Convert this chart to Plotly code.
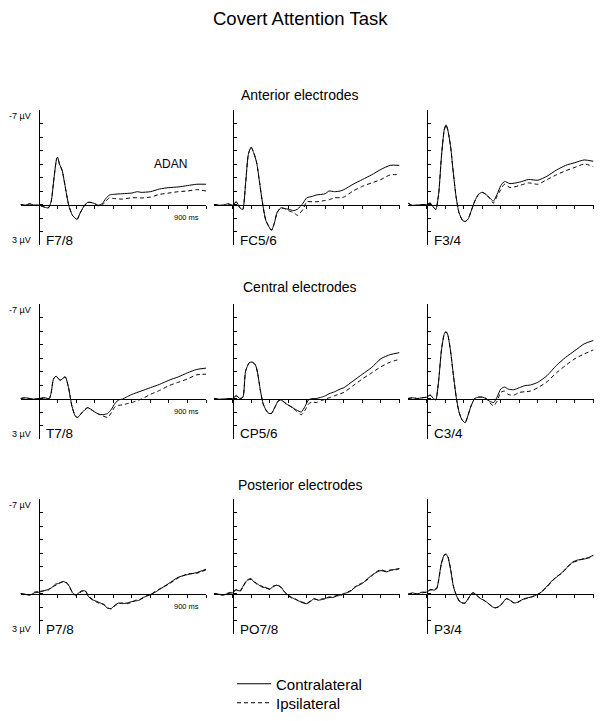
import plotly.graph_objects as go

# ---------------- data (µV, negative plotted upward) ----------------
electrodes = ["F7/8", "FC5/6", "F3/4", "T7/8", "CP5/6", "C3/4", "P7/8", "PO7/8", "P3/4"]
row_titles = ["Anterior electrodes", "Central electrodes", "Posterior electrodes"]
series_names = ["Contralateral", "Ipsilateral"]
x_ticks = [0, 100, 200, 300, 400, 500, 600, 700, 800, 900]
y_ticks = [-7, -6, -5, -4, -3, -2, -1, 0, 1, 2, 3]

f78_t = [-100, -75, -50, -25, 0, 30, 50, 65, 80, 95, 100, 110, 125, 140, 160, 180, 205, 220, 240, 260, 280, 300, 320, 340, 360, 380, 400, 450, 500, 530, 550, 600, 650, 700, 750, 800, 850, 900]
f78_contra = [0, 0.05, -0.05, 0.05, 0.05, 0.2, 0.25, -0.2, -1.9, -3.4, -3.5, -3.0, -2.5, -1.4, 0.05, 0.8, 1.1, 0.67, 0.17, -0.15, -0.15, -0.07, 0.05, -0.05, -0.45, -0.7, -0.75, -0.8, -0.85, -0.95, -0.9, -0.95, -1.15, -1.25, -1.3, -1.4, -1.5, -1.5]
f78_ipsi = [0, 0.05, -0.05, 0.05, 0.05, 0.2, 0.25, -0.2, -1.9, -3.4, -3.5, -3.0, -2.5, -1.4, 0.05, 0.8, 1.1, 0.67, 0.17, -0.15, -0.15, -0.05, 0.12, 0.05, -0.25, -0.5, -0.45, -0.4, -0.5, -0.5, -0.48, -0.55, -0.75, -0.85, -0.95, -1.0, -1.1, -1.0]

fc56_t = [-100, -75, -50, -25, 0, 20, 40, 55, 70, 85, 100, 115, 130, 145, 160, 180, 210, 225, 240, 260, 280, 300, 330, 350, 380, 400, 430, 450, 500, 520, 550, 580, 600, 650, 700, 750, 800, 850, 900]
fc56_contra = [0, 0.05, 0.05, -0.05, 0.05, -0.2, 0.25, 0.37, -1.5, -3.7, -4.25, -3.8, -3.1, -1.7, -0.25, 1.2, 1.9, 1.4, 0.6, 0.25, 0.3, 0.35, 0.45, 0.35, -0.1, -0.5, -0.6, -0.7, -0.8, -1.0, -0.95, -1.0, -1.1, -1.5, -1.85, -2.2, -2.6, -2.9, -2.9]
fc56_ipsi = [0, 0.05, 0.05, -0.05, 0.05, -0.2, 0.25, 0.37, -1.5, -3.7, -4.25, -3.8, -3.1, -1.7, -0.25, 1.2, 1.9, 1.4, 0.6, 0.25, 0.3, 0.45, 0.6, 0.8, 0.35, -0.2, -0.2, -0.2, -0.3, -0.35, -0.5, -0.5, -0.55, -1.0, -1.35, -1.6, -1.85, -2.2, -2.2]

f34_t = [-100, -80, -50, -25, 0, 20, 40, 50, 65, 80, 95, 105, 115, 130, 145, 160, 175, 195, 210, 225, 240, 260, 280, 300, 320, 340, 360, 380, 400, 420, 450, 500, 550, 600, 650, 700, 750, 800, 850, 900]
f34_contra = [-0.1, 0.05, 0.05, 0, 0, -0.1, 0.25, 0.37, -0.75, -3.5, -5.5, -5.9, -5.5, -4.25, -2.25, -0.5, 0.6, 1.2, 1.25, 1.05, 0.5, -0.25, -0.75, -0.9, -0.75, -0.5, -0.25, -0.75, -1.4, -1.7, -1.55, -1.65, -1.85, -1.8, -2.1, -2.55, -2.9, -3.1, -3.3, -3.2]
f34_ipsi = [-0.1, 0.05, 0.05, 0, 0, -0.1, 0.25, 0.37, -0.75, -3.5, -5.5, -5.9, -5.5, -4.25, -2.25, -0.5, 0.6, 1.2, 1.25, 1.05, 0.5, -0.25, -0.75, -0.9, -0.75, -0.45, -0.1, -0.6, -1.1, -1.5, -1.25, -1.4, -1.6, -1.5, -1.85, -2.2, -2.5, -2.75, -3.0, -2.8]

t78_t = [-100, -75, -50, -25, 0, 30, 55, 65, 78, 92, 114, 141, 159, 177, 195, 208, 231, 262, 295, 320, 345, 370, 390, 410, 430, 450, 470, 500, 550, 600, 650, 700, 750, 800, 850, 900]
t78_contra = [0, -0.05, 0, 0.05, 0, -0.05, 0, -0.4, -1.45, -1.65, -1.35, -1.6, -0.8, 0.55, 1.3, 1.4, 1.05, 0.68, 0.95, 1.15, 1.2, 1.1, 0.8, 0.35, 0.1, 0.05, -0.1, -0.3, -0.55, -0.8, -1.05, -1.35, -1.6, -1.9, -2.15, -2.25]
t78_ipsi = [0, -0.05, 0, 0.05, 0, -0.05, 0, -0.4, -1.45, -1.65, -1.35, -1.6, -0.8, 0.55, 1.3, 1.4, 1.05, 0.68, 0.95, 1.15, 1.3, 1.4, 1.05, 0.6, 0.5, 0.48, 0.4, 0.3, 0.05, -0.3, -0.6, -0.95, -1.2, -1.45, -1.75, -1.8]

cp56_t = [-100, -75, -50, -25, 0, 20, 40, 56, 70, 90, 105, 123, 135, 150, 165, 180, 195, 210, 230, 245, 260, 290, 320, 345, 371, 390, 410, 430, 450, 480, 500, 520, 550, 580, 600, 650, 700, 750, 800, 850, 900]
cp56_contra = [0, 0.05, 0.05, 0, 0, -0.2, 0, -0.1, -2.0, -2.65, -2.7, -2.5, -1.9, -0.6, 0.4, 0.85, 1.1, 1.1, 0.6, 0.2, 0.1, 0.4, 0.65, 0.85, 1.0, 0.6, 0.1, 0, 0, -0.1, -0.2, -0.35, -0.5, -0.7, -0.8, -1.3, -1.8, -2.3, -2.95, -3.25, -3.4]
cp56_ipsi = [0, 0.05, 0.05, 0, 0, -0.2, 0, -0.1, -2.0, -2.65, -2.7, -2.5, -1.9, -0.6, 0.4, 0.85, 1.1, 1.1, 0.6, 0.2, 0.1, 0.4, 0.65, 0.95, 1.2, 0.9, 0.4, 0.25, 0.3, 0.15, 0.05, -0.05, -0.2, -0.35, -0.45, -0.95, -1.45, -1.9, -2.35, -2.7, -2.9]

c34_t = [-100, -75, -50, -25, 0, 20, 40, 50, 65, 80, 95, 105, 115, 130, 145, 160, 175, 190, 208, 220, 240, 260, 280, 300, 320, 340, 362, 380, 400, 420, 440, 470, 500, 530, 560, 600, 650, 700, 750, 800, 850, 900]
c34_contra = [0, -0.05, 0, -0.05, -0.1, -0.25, 0.05, 0.1, -1.3, -3.55, -4.75, -4.95, -4.7, -3.45, -1.7, -0.1, 1.0, 1.55, 1.8, 1.4, 0.55, 0, -0.1, -0.1, 0, 0.2, 0.3, -0.1, -0.7, -0.85, -0.7, -0.65, -0.8, -0.95, -1.0, -1.2, -1.7, -2.45, -3.05, -3.55, -4.05, -4.3]
c34_ipsi = [0, -0.05, 0, -0.05, -0.1, -0.25, 0.05, 0.1, -1.3, -3.55, -4.75, -4.95, -4.7, -3.45, -1.7, -0.1, 1.0, 1.55, 1.8, 1.4, 0.55, 0, -0.1, -0.1, 0, 0.3, 0.55, 0.2, -0.45, -0.55, -0.3, -0.25, -0.45, -0.5, -0.55, -0.8, -1.25, -1.9, -2.45, -2.95, -3.3, -3.6]

p78_t = [-100, -75, -50, -25, 0, 25, 50, 70, 90, 110, 130, 150, 165, 180, 195, 210, 230, 250, 265, 285, 305, 330, 350, 370, 390, 410, 430, 450, 475, 500, 520, 540, 560, 580, 600, 620, 650, 700, 750, 800, 850, 900]
p78_contra = [0, 0.05, 0.12, -0.05, -0.1, -0.2, -0.3, -0.45, -0.7, -0.75, -0.9, -0.75, -0.5, -0.05, 0.12, 0, -0.2, -0.18, 0.2, 0.45, 0.55, 0.7, 0.85, 1.1, 1.1, 0.85, 0.7, 0.75, 0.7, 0.6, 0.55, 0.5, 0.3, 0.2, 0.07, -0.05, -0.3, -0.75, -1.2, -1.4, -1.55, -1.8]
p78_ipsi = [0, 0.08, 0.1, -0.1, -0.15, -0.2, -0.25, -0.5, -0.6, -0.8, -0.85, -0.8, -0.45, -0.1, 0.1, 0.05, -0.15, -0.2, 0.15, 0.4, 0.6, 0.75, 0.8, 1.05, 1.15, 0.9, 0.75, 0.7, 0.75, 0.65, 0.5, 0.45, 0.35, 0.15, 0.1, -0.1, -0.35, -0.7, -1.15, -1.45, -1.5, -1.75]

po78_t = [-100, -75, -50, -25, 0, 20, 40, 55, 70, 85, 100, 115, 130, 150, 165, 180, 200, 220, 240, 260, 280, 300, 320, 340, 360, 380, 400, 420, 440, 460, 480, 500, 520, 540, 560, 580, 600, 620, 640, 660, 680, 700, 720, 750, 780, 800, 830, 850, 880, 900]
po78_contra = [0, 0.05, 0.12, 0, -0.05, -0.25, -0.2, -0.5, -0.85, -1.05, -1.1, -0.85, -0.75, -0.55, -0.45, -0.45, -0.3, -0.55, -0.6, -0.5, -0.1, 0.12, 0.3, 0.45, 0.57, 0.7, 0.75, 0.6, 0.37, 0.5, 0.45, 0.37, 0.25, 0.3, 0.2, 0.12, 0, -0.07, -0.2, -0.5, -0.6, -0.75, -1.0, -1.35, -1.6, -1.7, -1.6, -1.7, -1.8, -1.85]
po78_ipsi = [0, 0.08, 0.1, -0.05, -0.1, -0.3, -0.15, -0.45, -0.8, -1.0, -1.05, -0.9, -0.7, -0.6, -0.5, -0.4, -0.35, -0.5, -0.65, -0.45, -0.15, 0.15, 0.35, 0.4, 0.6, 0.65, 0.72, 0.55, 0.42, 0.45, 0.4, 0.4, 0.3, 0.25, 0.15, 0.15, 0.05, -0.1, -0.25, -0.45, -0.65, -0.8, -0.95, -1.3, -1.65, -1.75, -1.65, -1.75, -1.75, -1.85]

p34_t = [-100, -75, -50, -25, 0, 20, 40, 55, 65, 80, 95, 105, 115, 130, 145, 160, 175, 190, 208, 230, 250, 270, 290, 310, 330, 350, 370, 390, 410, 430, 450, 470, 490, 510, 530, 550, 570, 600, 620, 650, 680, 700, 730, 760, 790, 820, 850, 880, 900]
p34_contra = [0.05, -0.05, 0.05, -0.1, -0.1, -0.3, -0.25, -0.35, -1.0, -2.25, -2.85, -2.9, -2.7, -1.75, -0.5, 0.12, 0.55, 0.68, 0.7, 0.25, -0.07, 0.12, 0.37, 0.5, 0.7, 0.95, 1.07, 0.95, 0.7, 0.37, 0.5, 0.7, 0.65, 0.5, 0.37, 0.3, 0.25, 0.05, -0.12, -0.55, -1.0, -1.2, -1.55, -1.95, -2.35, -2.5, -2.55, -2.7, -2.85]
p34_ipsi = [0.05, 0, 0.02, -0.05, -0.1, -0.25, -0.3, -0.4, -0.95, -2.2, -2.8, -2.95, -2.75, -1.8, -0.55, 0.1, 0.5, 0.7, 0.72, 0.3, -0.05, 0.15, 0.35, 0.52, 0.72, 0.9, 1.05, 1.0, 0.72, 0.4, 0.48, 0.68, 0.67, 0.52, 0.4, 0.32, 0.22, 0.08, -0.1, -0.5, -0.95, -1.25, -1.5, -2.0, -2.3, -2.45, -2.6, -2.65, -2.8]

panels = [
    (f78_t, f78_contra, f78_ipsi), (fc56_t, fc56_contra, fc56_ipsi), (f34_t, f34_contra, f34_ipsi),
    (t78_t, t78_contra, t78_ipsi), (cp56_t, cp56_contra, cp56_ipsi), (c34_t, c34_contra, c34_ipsi),
    (p78_t, p78_contra, p78_ipsi), (po78_t, po78_contra, po78_ipsi), (p34_t, p34_contra, p34_ipsi),
]

# ---------------- layout geometry (page pixels) ----------------
W, H = 606, 721
col_left = [20.5, 214.0, 408.0]
col_w = 185.5
row_top = [110.0, 304.0, 499.0]
row_h = 135.0
row_title_y = [95, 287, 485]
FONT = "Arial, Liberation Sans, sans-serif"


def px(x):
    return x / W


def py(y):
    return 1 - y / H


fig = go.Figure()
layout = dict(
    width=W, height=H, margin=dict(l=0, r=0, t=0, b=0),
    paper_bgcolor="white", plot_bgcolor="white",
    font=dict(family=FONT, color="black"),
    showlegend=True,
    legend=dict(x=px(232), y=py(684), xanchor="left", yanchor="middle",
                font=dict(size=15, family=FONT, color="black"),
                bgcolor="rgba(0,0,0,0)", itemwidth=34),
    legend2=dict(x=px(232), y=py(703), xanchor="left", yanchor="middle",
                 font=dict(size=15, family=FONT, color="black"),
                 bgcolor="rgba(0,0,0,0)", itemwidth=34),
)
annotations = []

for i, (t, contra, ipsi) in enumerate(panels):
    r, c = divmod(i, 3)
    n = i + 1
    xa = "x" if n == 1 else f"x{n}"
    ya = "y" if n == 1 else f"y{n}"
    L, T = col_left[c], row_top[r]
    zero_y_px = T + row_h * 0.7
    zero_x_px = L + col_w * 0.1
    for vals, name, dash, leg in [(contra, series_names[0], "solid", "legend"),
                                  (ipsi, series_names[1], "4px,3px", "legend2")]:
        fig.add_trace(go.Scatter(
            x=t, y=vals, xaxis=xa, yaxis=ya, mode="lines", name=name, legend=leg,
            line=dict(color="black", width=1, dash=dash, shape="spline", smoothing=0.6),
            showlegend=(i == 0), hoverinfo="skip",
        ))
    layout[f"xaxis{'' if n == 1 else n}"] = dict(
        domain=[px(L), px(L + col_w)], range=[-100, 900], anchor="free",
        position=py(zero_y_px), showline=True, linecolor="black", linewidth=1,
        ticks="outside", ticklen=3, tickcolor="black", tickwidth=1,
        tickvals=x_ticks, showticklabels=False, showgrid=False, zeroline=False, fixedrange=True,
    )
    layout[f"yaxis{'' if n == 1 else n}"] = dict(
        domain=[py(T + row_h), py(T)], range=[3, -7], anchor="free",
        position=px(zero_x_px), showline=True, linecolor="black", linewidth=1,
        ticks="inside", ticklen=3, tickcolor="black", tickwidth=1,
        tickvals=y_ticks, showticklabels=False, showgrid=False, zeroline=False, fixedrange=True,
    )
    # electrode label
    annotations.append(dict(x=px(zero_x_px + 5), y=py(T + row_h - 5), xref="paper", yref="paper",
                            text=electrodes[i], showarrow=False, xanchor="left", yanchor="middle",
                            font=dict(size=13.5, family=FONT)))
    if c == 0:
        annotations.append(dict(x=px(zero_x_px - 6), y=py(T + 6), xref="paper", yref="paper",
                                text="-7 µV", showarrow=False, xanchor="right", yanchor="middle",
                                font=dict(size=9, family=FONT)))
        annotations.append(dict(x=px(zero_x_px - 6), y=py(T + row_h - 5), xref="paper", yref="paper",
                                text="3 µV", showarrow=False, xanchor="right", yanchor="middle",
                                font=dict(size=9, family=FONT)))
        annotations.append(dict(x=px(L + col_w - 5), y=py(zero_y_px + 13), xref="paper", yref="paper",
                                text="900 ms", showarrow=False, xanchor="right", yanchor="middle",
                                font=dict(size=7.5, family=FONT)))
        annotations.append(dict(x=px(300), y=py(row_title_y[r]), xref="paper", yref="paper",
                                text=row_titles[r], showarrow=False, xanchor="center", yanchor="middle",
                                font=dict(size=14, family=FONT)))

annotations.append(dict(x=px(300), y=py(19), xref="paper", yref="paper", text="Covert Attention Task",
                        showarrow=False, xanchor="center", yanchor="middle", font=dict(size=18.5, family=FONT)))
annotations.append(dict(x=px(152), y=py(164), xref="paper", yref="paper", text="ADAN",
                        showarrow=False, xanchor="left", yanchor="middle", font=dict(size=12, family=FONT)))

layout["annotations"] = annotations
fig.update_layout(**layout)
fig.write_html("out.html",
               config={"displayModeBar": False, "staticPlot": True},
               post_script="document.body.style.margin='0';document.body.style.overflow='hidden';")
